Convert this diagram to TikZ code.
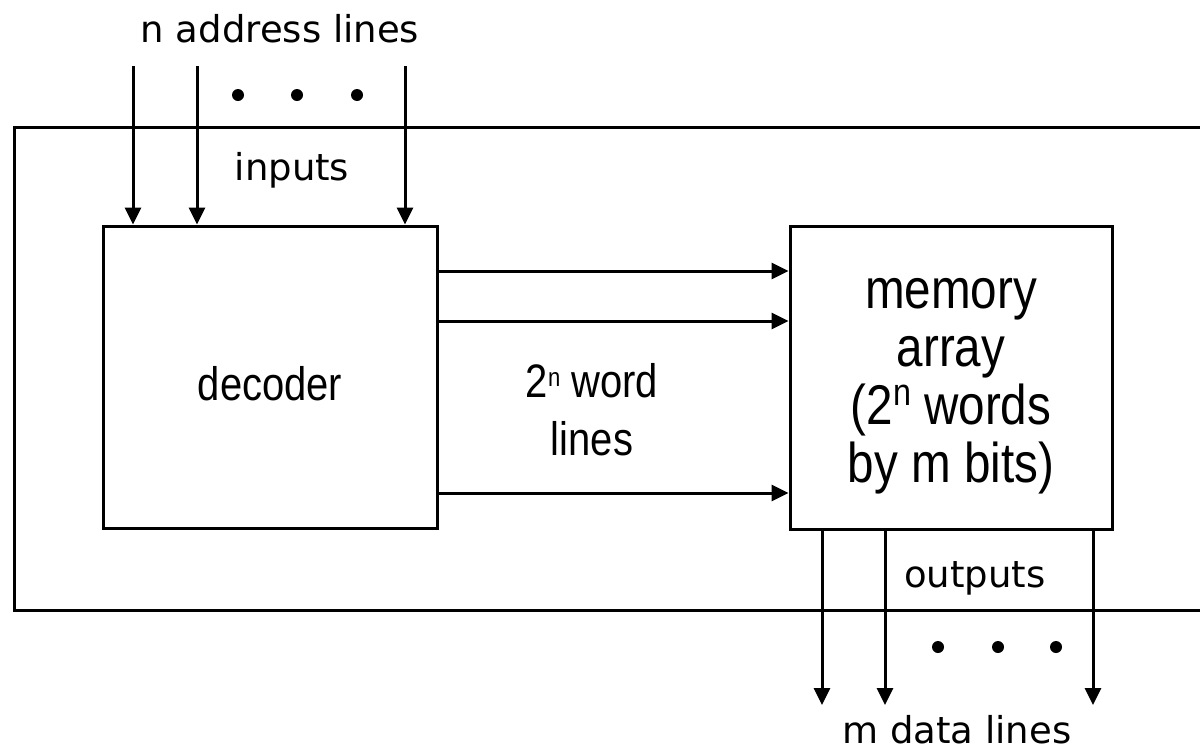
\documentclass[tikz,border=0pt]{standalone}
\usepackage{fontspec}
\setmainfont{DejaVu Sans}
\newfontfamily\arialfont[FakeStretch=0.85]{Liberation Sans}
\usetikzlibrary{arrows.meta,positioning}

\begin{document}
\begin{tikzpicture}[x=1pt, y=-1pt,
          box/.style={draw, line width=3pt, inner sep=0pt},
          arr/.style={-{Triangle[length=17pt, width=16pt]}, line width=3pt},
          lbl/.style={anchor=base, inner sep=0pt, font=\fontsize{37}{44}\selectfont},
          txt/.style={align=center, inner sep=0pt, font=\arialfont\fontsize{47}{58}\selectfont},
          bigtxt/.style={align=center, inner sep=0pt, font=\arialfont\fontsize{56}{58}\selectfont},
          dot/.style={circle, fill, inner sep=0pt, minimum size=12pt}
        ]
        \useasboundingbox (0,0) rectangle (1200,750);
        % frame round the whole memory, cut by the page edge
        \draw[line width=3pt] (14,127) rectangle (1240,610);
        \node[box, minimum width=334pt, minimum height=302pt] (dec) at (270,377) {};
        \node[box, minimum width=322pt, minimum height=303pt] (mem) at (951,377.5) {};
        \node[txt] (dectxt) at ([yshift=-7pt]dec.center) {decoder};
        \node[bigtxt] (memtxt) at ([yshift=-9pt]mem.center) {memory\\array\\(2\raisebox{19pt}{\fontsize{38}{38}\selectfont n} words\\by m bits)};
        \node[txt] (wl) at (592,410) {2\raisebox{11pt}{\fontsize{26}{26}\selectfont n} word\\lines};
        \node[lbl] (addr) at (280,42) {n address lines};
        \node[lbl] (inp) at (292,180) {inputs};
        \node[lbl] (outp) at (975,587) {outputs};
        \node[lbl] (data) at (957,743) {m data lines};
        % address lines in
        \coordinate (in1) at (133,66);
        \coordinate (in2) at (197,66);
        \coordinate (in3) at (405,66);
        \draw[arr] (in1) -- (in1 |- dec.north);
        \draw[arr] (in2) -- (in2 |- dec.north);
        \draw[arr] (in3) -- (in3 |- dec.north);
        \foreach \x in {238,297,357} \node[dot] at (\x,95) {};
        % word lines
        \draw[arr] (dec.east |- 0,271) -- (mem.west |- 0,271);
        \draw[arr] (dec.east |- 0,321) -- (mem.west |- 0,321);
        \draw[arr] (dec.east |- 0,493) -- (mem.west |- 0,493);
        % data lines out
        \coordinate (out1) at (822,705);
        \coordinate (out2) at (885,705);
        \coordinate (out3) at (1093,705);
        \draw[arr] (out1 |- mem.south) -- (out1);
        \draw[arr] (out2 |- mem.south) -- (out2);
        \draw[arr] (out3 |- mem.south) -- (out3);
        \foreach \x in {938,998,1056} \node[dot] at (\x,647) {};
      \end{tikzpicture}
\end{document}
